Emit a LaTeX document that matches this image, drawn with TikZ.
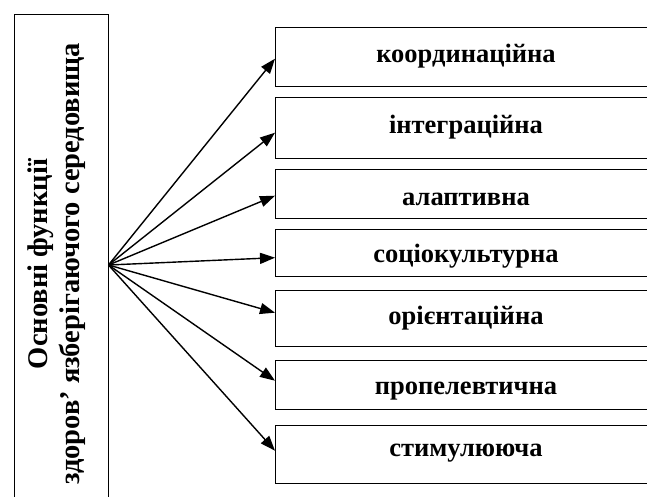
\documentclass[tikz,border=0pt]{standalone}
\usepackage{fontspec}
\setmainfont{Liberation Serif}
\usetikzlibrary{arrows.meta,calc}
\begin{document}
\begin{tikzpicture}[x=1pt,y=-1pt,
  fbox/.style={draw, line width=1.4pt, anchor=north west, inner sep=0pt, minimum width=382pt},
  ftext/.style={font=\bfseries\fontsize{26.5}{30}\selectfont, inner sep=0pt},
  arr/.style={line width=1.4pt, -{Triangle[length=15pt,width=11pt]}}]
\useasboundingbox (0,0) rectangle (647,496);
\fill[white] (0,0) rectangle (647,496);
% main box
\node[draw, line width=1.4pt, anchor=north west, inner sep=0pt, minimum width=94pt, minimum height=510pt] (main) at (13.5,14) {};
\node[rotate=90, align=center, font=\bfseries\fontsize{28.5}{32}\selectfont] (title) at (57,264) {Основні функції\\здоров’ язберігаючого середовища};
\coordinate (src) at (108.5,265);
% function boxes
\node[fbox, minimum height=59pt] (b1) at (275,27) {};
\node[fbox, minimum height=61pt] (b2) at (275,97) {};
\node[fbox, minimum height=49pt] (b3) at (275,169) {};
\node[fbox, minimum height=47pt] (b4) at (275,229) {};
\node[fbox, minimum height=56pt] (b5) at (275,290) {};
\node[fbox, minimum height=49pt] (b6) at (275,360) {};
\node[fbox, minimum height=58pt] (b7) at (275,425) {};
\node[ftext] (t1) at (466,56) {координаційна};
\node[ftext] (t2) at (466,127) {інтеграційна};
\node[ftext] (t3) at (466,199) {алаптивна};
\node[ftext] (t4) at (466,256) {соціокультурна};
\node[ftext] (t5) at (466,318) {орієнтаційна};
\node[ftext] (t6) at (466,391) {пропелевтична};
\node[ftext] (t7) at (466,453) {стимулююча};
% arrows
\draw[arr] (src) -- ([yshift=-1.5pt]b1.west);
\draw[arr] (src) -- ([yshift=-4.5pt]b2.west);
\draw[arr] (src) -- ([yshift=-1.5pt]b3.west);
\draw[arr] (src) -- ([yshift=-4.5pt]b4.west);
\draw[arr] (src) -- ([yshift=6pt]b5.west);
\draw[arr] (src) -- ([yshift=4.5pt]b6.west);
\draw[arr] (src) -- ([yshift=4pt]b7.west);
\end{tikzpicture}
\end{document}
